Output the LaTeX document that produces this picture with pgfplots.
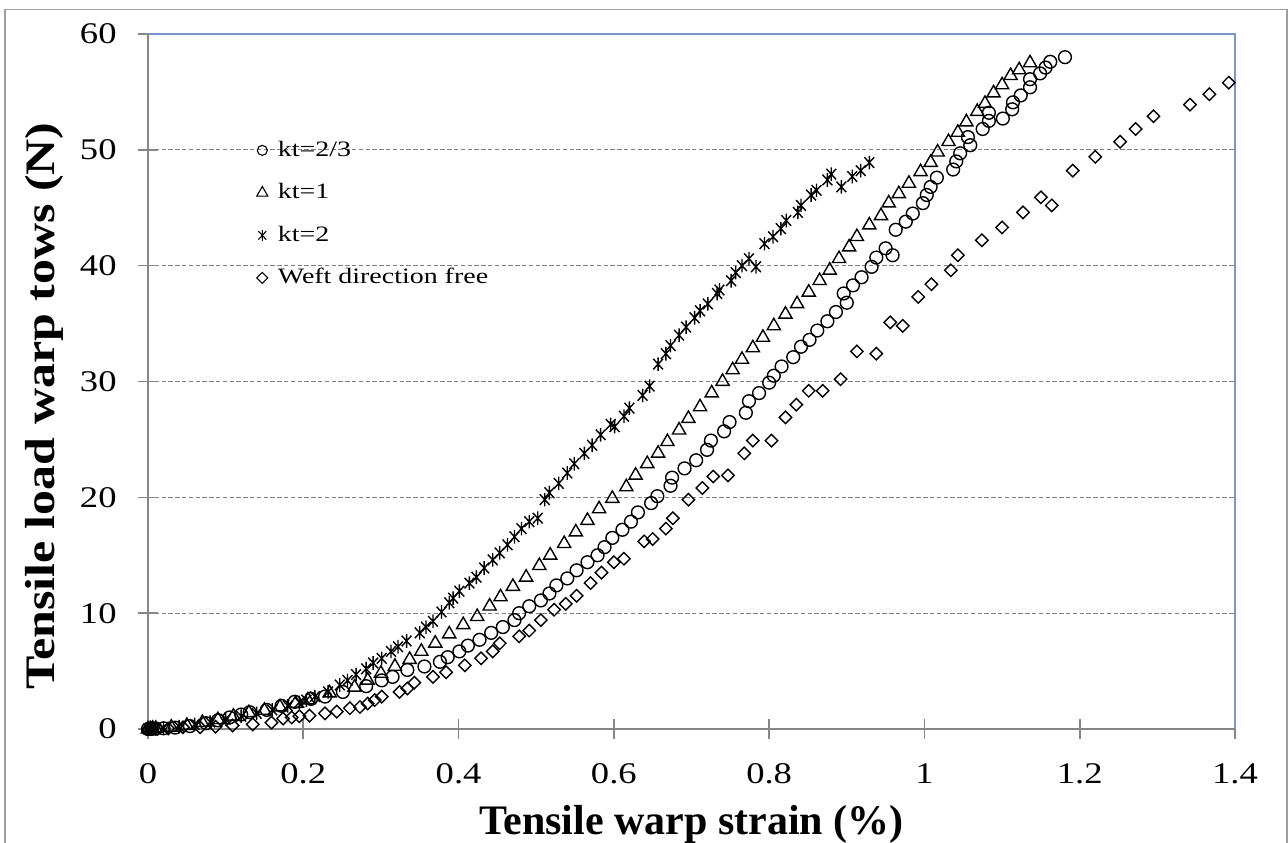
\documentclass[border=0pt]{standalone}
\usepackage{pgfplots}
\pgfplotsset{compat=1.18}
\usepackage{fontspec}
\usepackage{graphicx}
\setmainfont{Liberation Serif}
\definecolor{axgray}{RGB}{134,134,134}
\definecolor{gridgray}{RGB}{128,128,128}
\definecolor{plotblue}{RGB}{120,150,205}
\pgfdeclareplotmark{xstar}{%
  \pgfpathmoveto{\pgfqpoint{0pt}{\pgfplotmarksize}}%
  \pgfpathlineto{\pgfqpoint{0pt}{-\pgfplotmarksize}}%
  \pgfpathmoveto{\pgfqpoint{-.72\pgfplotmarksize}{.78\pgfplotmarksize}}%
  \pgfpathlineto{\pgfqpoint{.72\pgfplotmarksize}{-.78\pgfplotmarksize}}%
  \pgfpathmoveto{\pgfqpoint{.72\pgfplotmarksize}{.78\pgfplotmarksize}}%
  \pgfpathlineto{\pgfqpoint{-.72\pgfplotmarksize}{-.78\pgfplotmarksize}}%
  \pgfusepathqstroke}
\begin{document}
\begin{tikzpicture}
\path[use as bounding box] (-74pt,-56.5pt) rectangle (570pt,364.5pt);
\draw[axgray!80, line width=0.7pt] (-71.5pt,-80pt) rectangle (569.5pt,359.6pt);
\begin{axis}[
  scale only axis,
  width=543.5pt, height=347.5pt,
  xmin=0, xmax=1.4, ymin=0, ymax=60,
  clip=false,
  axis line style={draw=none},
  xtick={0,0.2,0.4,0.6,0.8,1,1.2,1.4},
  ytick={0,10,20,30,40,50,60},
  tick pos=left,
  tick align=center,
  major tick length=10pt,
  tick style={axgray, line width=0.8pt},
  ymajorgrids,
  grid style={gridgray, line width=0.5pt, dash pattern=on 2.2pt off 1.2pt},
  /pgf/number format/assume math mode=true,
  xticklabel={\scalebox{1.22}[1]{\pgfmathprintnumber{\tick}}},
  yticklabel={\scalebox{1.22}[1]{\pgfmathprintnumber{\tick}}},
  xticklabel style={font=\fontsize{15}{18}\selectfont, anchor=north, inner sep=0pt, yshift=-12pt},
  yticklabel style={font=\fontsize{15}{18}\selectfont, anchor=east, inner sep=0pt, xshift=-10.5pt},
  xlabel={\textbf{Tensile warp strain (\%)}},
  ylabel={\scalebox{1.19}[1]{\textbf{Tensile load warp tows (N)}}},
  xlabel style={font=\fontsize{21}{25}\selectfont, at={(axis description cs:0.5,-0.1525)}, anchor=base, inner sep=0pt},
  ylabel style={font=\fontsize{21}{25}\selectfont, at={(axis description cs:-0.0856,0.4647)}, anchor=base, inner sep=0pt},
  legend style={draw=none, fill=none, at={(axis description cs:0.0997,0.8504)}, anchor=north west,
    font=\fontsize{11}{13}\selectfont, inner sep=0pt, row sep=9.25pt,
    nodes={inner sep=0pt, inner xsep=0pt, text height=9pt, text depth=3pt}},
  legend cell align=left,
  legend image code/.code={\draw[#1] plot coordinates {(0pt,0pt)};},
  every axis plot/.append style={only marks, black, line width=0.7pt},
]
\addlegendimage{only marks, black, line width=0.55pt, mark=o, mark size=2.5pt}
\addlegendentry{\hspace{5pt}\scalebox{1.27}[1]{kt=2/3}}
\addlegendimage{only marks, black, line width=0.55pt, mark=triangle, mark size=3.2pt}
\addlegendentry{\hspace{5pt}\scalebox{1.27}[1]{kt=1}}
\addlegendimage{only marks, black, line width=0.55pt, mark=xstar, mark size=2.7pt}
\addlegendentry{\hspace{5pt}\scalebox{1.27}[1]{kt=2}}
\addlegendimage{only marks, black, line width=0.55pt, mark=square, mark size=1.95pt, mark options={rotate=45}}
\addlegendentry{\hspace{5pt}\scalebox{1.27}[1]{Weft direction free}}

% kt=2/3
\addplot[forget plot, mark=o, mark size=3.2pt] coordinates {
(0,0) (0.005,0.02) (0.01,0.03) (0.02,0.06) (0.035,0.12) (0.054,0.25) (0.075,0.5) (0.09,0.75)
(0.105,1.0) (0.12,1.25) (0.131,1.45) (0.153,1.65) (0.172,2.0) (0.189,2.35) (0.21,2.6) (0.228,2.8)
(0.251,3.2) (0.281,3.7) (0.301,4.2) (0.315,4.5) (0.334,5.1) (0.356,5.4) (0.376,5.8) (0.386,6.2)
(0.401,6.7) (0.412,7.2) (0.427,7.7) (0.442,8.3) (0.457,8.8) (0.472,9.4) (0.478,10.0) (0.491,10.6)
(0.506,11.1) (0.517,11.7) (0.526,12.4) (0.540,13.0) (0.552,13.7) (0.566,14.4) (0.579,15.0) (0.588,15.7)
(0.598,16.5) (0.611,17.2) (0.622,17.9) (0.631,18.7) (0.648,19.5) (0.656,20.1) (0.673,21.0) (0.675,21.7)
(0.691,22.5) (0.706,23.2) (0.720,24.1) (0.725,24.9) (0.742,25.7) (0.749,26.5) (0.770,27.3) (0.774,28.3)
(0.787,29.0) (0.800,29.9) (0.806,30.5) (0.816,31.3) (0.831,32.1) (0.841,33.0) (0.852,33.6) (0.862,34.4)
(0.875,35.2) (0.886,36.0) (0.900,36.8) (0.896,37.6) (0.908,38.3) (0.919,39.0) (0.932,39.9) (0.938,40.7)
(0.950,41.5) (0.959,40.9) (0.963,43.1) (0.976,43.8) (0.985,44.5) (0.998,45.4) (1.003,46.1) (1.008,46.8)
(1.016,47.6) (1.037,48.3) (1.041,49.0) (1.046,49.7) (1.059,50.4) (1.056,51.1) (1.075,51.8) (1.083,52.5)
(1.083,53.2) (1.101,52.7) (1.113,53.5) (1.114,54.1) (1.124,54.7) (1.136,55.4) (1.136,56.1) (1.149,56.6)
(1.156,57.1) (1.162,57.6) (1.181,58.0)
};
% kt=1
\addplot[forget plot, mark=triangle, mark size=3.8pt] coordinates {
(0,0) (0.003,0.02) (0.006,0.05) (0.01,0.05) (0.03,0.15) (0.05,0.3) (0.07,0.55) (0.09,0.8)
(0.11,1.1) (0.13,1.4) (0.15,1.6) (0.17,1.9) (0.19,2.2) (0.206,2.5) (0.234,3.1) (0.266,3.6)
(0.283,4.2) (0.300,4.8) (0.318,5.4) (0.337,6.0) (0.352,6.7) (0.370,7.4) (0.388,8.2) (0.406,9.0)
(0.424,9.7) (0.440,10.6) (0.454,11.4) (0.470,12.3) (0.487,13.1) (0.504,14.1) (0.518,15.0) (0.536,16.0)
(0.551,17.0) (0.566,18.0) (0.581,19.0) (0.598,19.9) (0.616,20.9) (0.628,21.9) (0.643,22.9) (0.657,23.8)
(0.669,24.8) (0.684,25.8) (0.696,26.8) (0.711,27.8) (0.726,29.0) (0.740,30.0) (0.753,31.0) (0.765,31.9)
(0.779,32.9) (0.792,33.8) (0.806,34.8) (0.821,35.8) (0.836,36.7) (0.851,37.7) (0.865,38.7) (0.878,39.6)
(0.890,40.6) (0.903,41.6) (0.913,42.5) (0.929,43.5) (0.944,44.3) (0.954,45.4) (0.967,46.2) (0.980,47.1)
(0.995,48.1) (1.008,48.9) (1.017,49.8) (1.031,50.7) (1.043,51.5) (1.054,52.4) (1.068,53.3) (1.078,54.0)
(1.089,54.9) (1.100,55.6) (1.111,56.4) (1.122,56.9) (1.136,57.5)
};
% kt=2
\addplot[forget plot, mark=xstar, mark size=3.4pt] coordinates {
(0,0) (0.005,0.02) (0.01,0.05) (0.02,0.08) (0.04,0.2) (0.06,0.4) (0.08,0.6) (0.1,0.85)
(0.12,1.1) (0.14,1.35) (0.16,1.65) (0.18,2.0) (0.195,2.3) (0.204,2.5) (0.215,2.8) (0.232,3.2)
(0.247,3.8) (0.257,4.2) (0.268,4.7) (0.281,5.2) (0.290,5.7) (0.301,6.1) (0.313,6.7) (0.322,7.1)
(0.333,7.6) (0.350,8.3) (0.358,8.8) (0.367,9.3) (0.378,10.1) (0.388,10.9) (0.393,11.3) (0.401,11.9)
(0.414,12.6) (0.423,13.1) (0.433,13.9) (0.444,14.6) (0.453,15.2) (0.463,15.9) (0.472,16.6) (0.481,17.3)
(0.491,17.9) (0.502,18.2) (0.511,19.8) (0.517,20.4) (0.529,21.2) (0.540,22.1) (0.549,22.9) (0.562,23.8)
(0.572,24.5) (0.583,25.4) (0.596,26.3) (0.601,26.1) (0.613,27.0) (0.620,27.7) (0.637,28.8) (0.646,29.6)
(0.657,31.5) (0.667,32.4) (0.673,33.1) (0.684,34.0) (0.693,34.7) (0.704,35.5) (0.711,36.1) (0.721,36.7)
(0.733,37.6) (0.736,37.9) (0.751,38.7) (0.757,39.4) (0.765,40.0) (0.774,40.6) (0.783,39.9) (0.794,41.9)
(0.805,42.5) (0.815,43.2) (0.822,43.9) (0.837,44.6) (0.841,45.2) (0.854,46.1) (0.861,46.5) (0.875,47.4)
(0.880,47.9) (0.893,46.8) (0.907,47.7) (0.918,48.2) (0.929,48.9)
};
% Weft direction free
\addplot[forget plot, mark=square, mark size=2.2pt, mark options={rotate=45}] coordinates {
(0,0) (0.005,0) (0.012,0.02) (0.026,0.05) (0.045,0.15) (0.067,0.15) (0.087,0.2) (0.109,0.3)
(0.135,0.4) (0.159,0.55) (0.174,0.9) (0.185,1.0) (0.195,1.1) (0.208,1.15) (0.228,1.35) (0.243,1.5)
(0.260,1.8) (0.273,1.9) (0.283,2.2) (0.292,2.5) (0.301,2.8) (0.324,3.2) (0.334,3.5) (0.343,4.0)
(0.367,4.5) (0.384,4.9) (0.408,5.5) (0.429,6.1) (0.444,6.7) (0.453,7.4) (0.478,8.0) (0.491,8.5)
(0.506,9.4) (0.523,10.3) (0.538,10.8) (0.552,11.5) (0.570,12.6) (0.584,13.5) (0.600,14.4) (0.613,14.7)
(0.639,16.2) (0.650,16.4) (0.667,17.3) (0.676,18.2) (0.696,19.8) (0.714,20.8) (0.728,21.8) (0.747,21.9)
(0.768,23.8) (0.779,24.9) (0.803,24.9) (0.821,26.9) (0.835,28.0) (0.851,29.2) (0.869,29.2) (0.892,30.2)
(0.913,32.6) (0.938,32.4) (0.956,35.1) (0.972,34.8) (0.992,37.3) (1.009,38.4) (1.034,39.6) (1.043,40.9)
(1.074,42.2) (1.100,43.3) (1.127,44.6) (1.150,45.9) (1.164,45.2) (1.191,48.2) (1.220,49.4) (1.252,50.7)
(1.272,51.8) (1.295,52.9) (1.342,53.9) (1.367,54.8) (1.392,55.8)
};
\draw[plotblue, line width=0.6pt] (rel axis cs:0,1) -- (rel axis cs:1,1) -- (rel axis cs:1,0);
\draw[axgray, line width=0.9pt] (rel axis cs:0,1) -- (rel axis cs:0,0) -- (rel axis cs:1,0);
\end{axis}
\end{tikzpicture}
\end{document}
